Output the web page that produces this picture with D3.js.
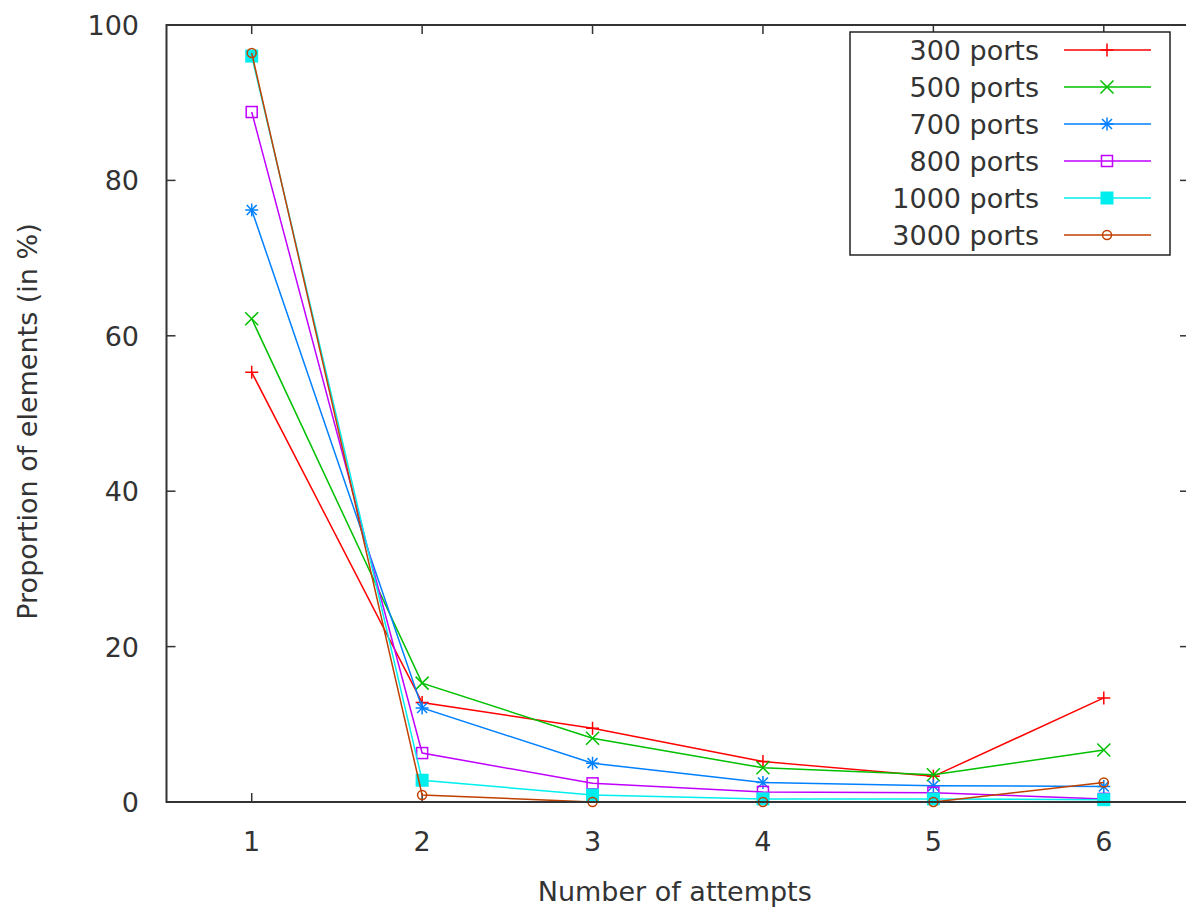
<!DOCTYPE html>
<html>
<head>
<meta charset="utf-8">
<script src="https://cdn.jsdelivr.net/npm/d3@7"></script>
<style>
  body { margin: 0; background: #fff; }
  text { font-family: "DejaVu Sans", sans-serif; fill: #333; }
</style>
</head>
<body>
<div id="chart"></div>
<script>
// Data
var attempts = [1, 2, 3, 4, 5, 6]
var seriesNames = ["300 ports", "500 ports", "700 ports", "800 ports", "1000 ports", "3000 ports"]
var ports300 = [55.3, 12.8, 9.5, 5.2, 3.3, 13.4]
var ports500 = [62.2, 15.3, 8.2, 4.4, 3.5, 6.7]
var ports700 = [76.2, 12.1, 5.0, 2.5, 2.1, 2.0]
var ports800 = [88.8, 6.3, 2.4, 1.3, 1.2, 0.4]
var ports1000 = [96.0, 2.8, 0.9, 0.4, 0.4, 0.3]
var ports3000 = [96.4, 0.9, 0.0, 0.0, 0.0, 2.5]
var yTicks = [0, 20, 40, 60, 80, 100]

var allSeries = [ports300, ports500, ports700, ports800, ports1000, ports3000]
var colors = ["#ff0000", "#00c000", "#0080ff", "#c000ff", "#00eeee", "#c04000"]
var markers = ["plus", "cross", "star", "box", "fbox", "circle"]

// Some global parameters
var width = 1186;
var height = 913;
var margin = {left: 166.5, top: 25, bottom: 111, right: -3};
var fontSize = 27

const svg = d3.select("#chart")
              .append("svg")
              .attr("width", width)
              .attr("height", height)

var xScale = d3.scaleLinear()
               .domain([0.5, 6.5])
               .range([margin.left, width - margin.right])

var yScale = d3.scaleLinear()
               .domain([0, 100])
               .range([height - margin.bottom, margin.top])

var x0 = xScale.range()[0], x1 = xScale.range()[1]
var y0 = yScale.range()[0], y1 = yScale.range()[1]
var tickLen = 9
var frameColor = "#333"

// Ticks (inside, mirrored on top and right like gnuplot)
attempts.forEach(function(a) {
  svg.append("line").attr("x1", xScale(a)).attr("x2", xScale(a))
     .attr("y1", y0).attr("y2", y0 - tickLen)
     .attr("stroke", frameColor).attr("stroke-width", 1.5)
  svg.append("line").attr("x1", xScale(a)).attr("x2", xScale(a))
     .attr("y1", y1).attr("y2", y1 + tickLen)
     .attr("stroke", frameColor).attr("stroke-width", 1.5)
  svg.append("text").attr("x", xScale(a)).attr("y", y0 + 49)
     .attr("text-anchor", "middle").attr("font-size", fontSize)
     .text(a)
})

yTicks.forEach(function(t) {
  svg.append("line").attr("x1", x0).attr("x2", x0 + tickLen)
     .attr("y1", yScale(t)).attr("y2", yScale(t))
     .attr("stroke", frameColor).attr("stroke-width", 1.5)
  svg.append("line").attr("x1", x1).attr("x2", x1 - tickLen)
     .attr("y1", yScale(t)).attr("y2", yScale(t))
     .attr("stroke", frameColor).attr("stroke-width", 1.5)
  svg.append("text").attr("x", 139).attr("y", yScale(t) + 10)
     .attr("text-anchor", "end").attr("font-size", fontSize)
     .text(t)
})

// Draw one marker centred on (cx, cy)
function drawMarker(g, type, cx, cy, color) {
  var s = 6.5
  if (type == "plus" || type == "star") {
    g.append("path").attr("d", "M" + (cx - s) + "," + cy + "H" + (cx + s) + "M" + cx + "," + (cy - s) + "V" + (cy + s))
     .attr("stroke", color).attr("stroke-width", 1.5).attr("fill", "none")
  }
  if (type == "cross" || type == "star") {
    var c = type == "star" ? 5 : 6.5
    g.append("path").attr("d", "M" + (cx - c) + "," + (cy - c) + "L" + (cx + c) + "," + (cy + c) + "M" + (cx - c) + "," + (cy + c) + "L" + (cx + c) + "," + (cy - c))
     .attr("stroke", color).attr("stroke-width", 1.5).attr("fill", "none")
  }
  if (type == "box") {
    g.append("rect").attr("x", cx - 5.5).attr("y", cy - 5.5).attr("width", 11).attr("height", 11)
     .attr("stroke", color).attr("stroke-width", 1.5).attr("fill", "none")
  }
  if (type == "fbox") {
    g.append("rect").attr("x", cx - 6.5).attr("y", cy - 6.5).attr("width", 13).attr("height", 13)
     .attr("fill", color)
  }
  if (type == "circle") {
    g.append("circle").attr("cx", cx).attr("cy", cy).attr("r", 4.5)
     .attr("stroke", color).attr("stroke-width", 1.5).attr("fill", "none")
  }
}

// Draw the lines and points of each series
var line = d3.line()
             .x((d, i) => xScale(attempts[i]))
             .y((d) => yScale(d))

allSeries.forEach(function(values, k) {
  var g = svg.append("g")
  g.append("path")
   .datum(values)
   .attr("d", line)
   .attr("fill", "none")
   .attr("stroke", colors[k])
   .attr("stroke-width", 1.5)
  values.forEach(function(v, i) {
    drawMarker(g, markers[k], xScale(attempts[i]), yScale(v), colors[k])
  })
})

// Frame
svg.append("rect")
   .attr("x", x0).attr("y", y1)
   .attr("width", x1 - x0).attr("height", y0 - y1)
   .attr("fill", "none").attr("stroke", frameColor).attr("stroke-width", 2)

// Axis labels
svg.append("text")
   .attr("x", (x0 + x1) / 2 - 3).attr("y", 901)
   .attr("text-anchor", "middle").attr("font-size", fontSize)
   .text("Number of attempts")

svg.append("text")
   .attr("transform", "translate(37," + ((y0 + y1) / 2 + 8) + ") rotate(-90)")
   .attr("text-anchor", "middle").attr("font-size", fontSize)
   .text("Proportion of elements (in %)")

// Legend
svg.append("rect").attr("x", 850).attr("y", 32)
   .attr("width", 320).attr("height", 223)
   .attr("fill", "#fff").attr("stroke", "#222").attr("stroke-width", 1.5)

seriesNames.forEach(function(name, k) {
  var cy = 50 + k * 37
  svg.append("text").attr("x", 1039).attr("y", cy + 10)
     .attr("text-anchor", "end").attr("font-size", fontSize)
     .text(name)
  var g = svg.append("g")
  g.append("line").attr("x1", 1064).attr("x2", 1151)
   .attr("y1", cy).attr("y2", cy)
   .attr("stroke", colors[k]).attr("stroke-width", 1.5)
  drawMarker(g, markers[k], 1107, cy, colors[k])
})
</script>
</body>
</html>
